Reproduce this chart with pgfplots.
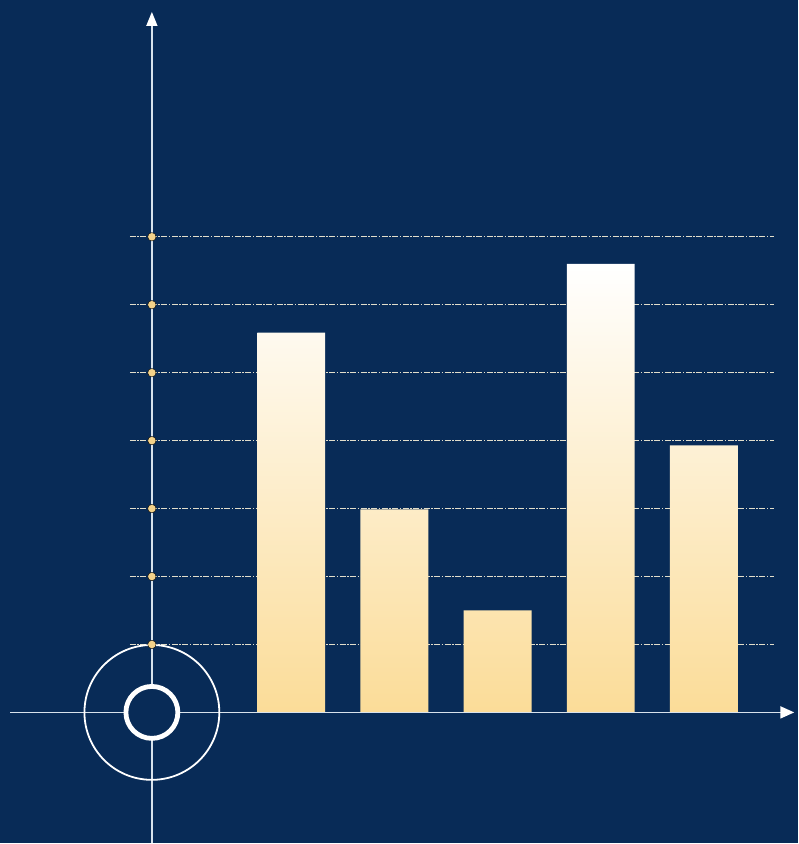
\documentclass[border=0pt]{standalone}
\usepackage{pgfplots}
\pgfplotsset{compat=1.18}
\usetikzlibrary{arrows.meta}
\definecolor{navy}{HTML}{082B57}
\definecolor{gold}{HTML}{FBDC98}
\definecolor{dotgold}{HTML}{F3D28A}
\definecolor{gridc}{HTML}{E2DECB}
\definecolor{axisc}{HTML}{D8E2EC}
\begin{document}
\begin{tikzpicture}
\begin{axis}[
  scale only axis, width=799pt, height=844pt,
  xmin=-1.8232, xmax=5.9153, ymin=-1.9265, ymax=10.4853,
  axis lines=none, ticks=none, clip=false,
  axis background/.style={fill=navy},
]
% gridlines
\addplot[gridc, line width=1.1pt, dash pattern=on 6pt off 1.5pt on 1.5pt off 1.5pt, unbounded coords=jump] table {
x y
-0.564 1
5.683 1
nan nan
-0.564 2
5.683 2
nan nan
-0.564 3
5.683 3
nan nan
-0.564 4
5.683 4
nan nan
-0.564 5
5.683 5
nan nan
-0.564 6
5.683 6
nan nan
-0.564 7
5.683 7
};
% bars
\addplot[ybar, bar width=68pt, draw=none, top color=white, bottom color=gold] coordinates {
(1,5.59) (2,2.99) (3,1.50) (4,6.60) (5,3.93)};
% y axis
\addplot[axisc, line width=1.4pt, arrows=-{Triangle[width=11pt,length=14pt,color=white]}] coordinates {(-0.351,-1.9265) (-0.351,10.31)};
% x axis
\addplot[axisc, line width=1.8pt, arrows=-{Triangle[width=12pt,length=14pt,color=white]}] coordinates {(-1.726,0) (5.876,0)};
% circles
\draw[white, line width=1.8pt] (axis cs:-0.351,0) circle[radius=67.5pt];
\draw[white, line width=4.8pt, fill=navy] (axis cs:-0.351,0) circle[radius=26pt];
% dots
\addplot[only marks, mark=*, mark size=4.2pt, mark options={fill=dotgold, draw=none}] coordinates {
(-0.351,1) (-0.351,2) (-0.351,3) (-0.351,4) (-0.351,5) (-0.351,6) (-0.351,7)};
\end{axis}
\end{tikzpicture}
\end{document}
